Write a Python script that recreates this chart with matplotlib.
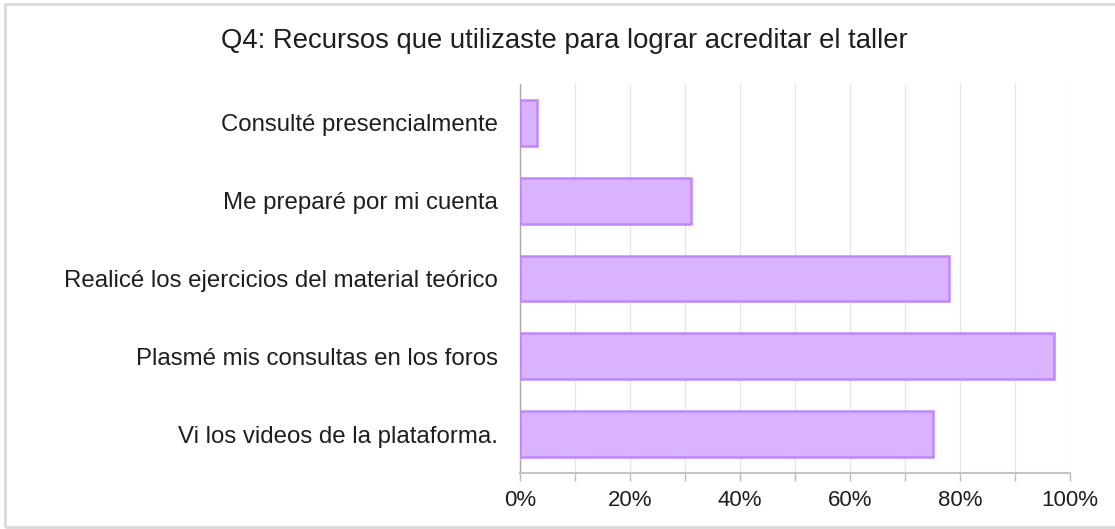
import matplotlib
matplotlib.use("Agg")
import matplotlib.pyplot as plt
from matplotlib.ticker import MultipleLocator, FuncFormatter
from matplotlib.patches import Rectangle

title = "Q4: Recursos que utilizaste para lograr acreditar el taller"
categories = [
    "Consulté presencialmente",
    "Me preparé por mi cuenta",
    "Realicé los ejercicios del material teórico",
    "Plasmé mis consultas en los foros",
    "Vi los videos de la plataforma.",
]
values = [3, 31, 78, 97, 75]

plt.rcParams['font.family'] = ['Liberation Sans', 'DejaVu Sans']

W, H = 1115, 529
fig = plt.figure(figsize=(W / 100, H / 100), dpi=100)
ax = fig.add_axes([520 / W, 1 - 473 / H, (1070 - 520) / W, (473 - 84) / H])

ypos = list(range(len(categories)))
ax.barh(ypos, values, height=0.59, color="#dab3ff", edgecolor="#c286fb",
        linewidth=1.8, zorder=3)
ax.set_ylim(len(categories) - 0.5, -0.5)
ax.set_xlim(0, 100)
ax.set_yticks(ypos)
ax.set_yticklabels(categories, fontsize=17.3, color="#1e1e1e")
ax.tick_params(axis='y', length=0, pad=16)

ax.xaxis.set_major_locator(MultipleLocator(20))
ax.xaxis.set_minor_locator(MultipleLocator(10))
ax.xaxis.set_major_formatter(FuncFormatter(lambda v, p: f"{int(v)}%"))
ax.tick_params(axis='x', which='both', length=6, width=1, color="#bbbbbb",
               labelsize=16, labelcolor="#1e1e1e", pad=6)
ax.grid(axis='x', which='both', color="#e6e6e6", linewidth=1, zorder=0)

for s in ("top", "right"):
    ax.spines[s].set_visible(False)
ax.spines["left"].set_color("#aaaaaa")
ax.spines["left"].set_linewidth(1)
ax.spines["bottom"].set_color("#c4c4c4")
ax.spines["bottom"].set_linewidth(1.5)
ax.set_axisbelow(True)

fig.text(564 / W, 1 - 41 / H, title, ha="center", va="center", fontsize=19.8,
         color="#1e1e1e")

fig.patches.append(Rectangle((5 / W, 1 - 527 / H), 1.2, (527 - 4) / H,
                             transform=fig.transFigure, fill=False,
                             edgecolor="#d9d9d9", linewidth=2))

fig.savefig("out.png", dpi=100)
